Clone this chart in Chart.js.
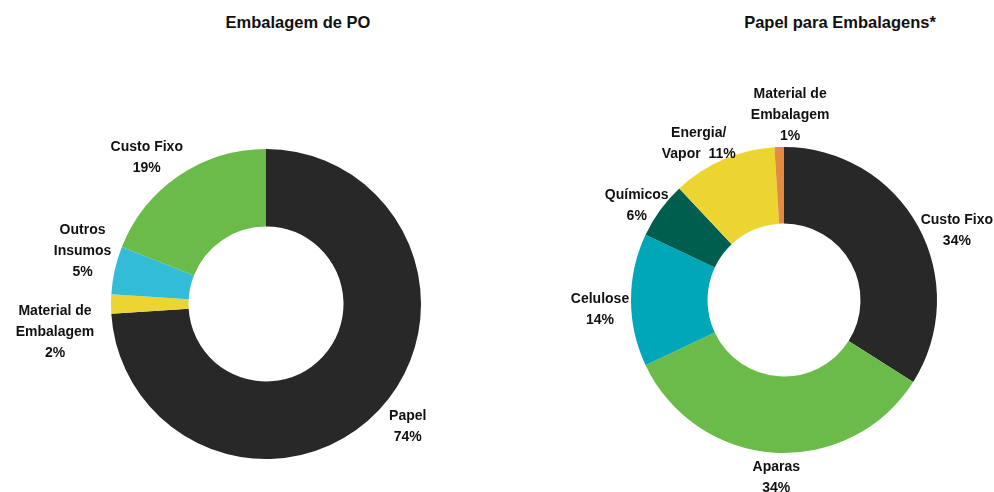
<!DOCTYPE html>
<html lang="pt">
<head>
  <meta charset="UTF-8">
  <title>Estrutura de custos</title>
  <script src="https://cdn.jsdelivr.net/npm/chart.js"></script>
  <style>
    html, body { margin: 0; padding: 0; background: #fff; }
    #wrap { position: relative; width: 994px; height: 492px; overflow: hidden; }
    .box { position: absolute; top: 0; width: 497px; height: 492px; }
    .titulo { position: absolute; top: 13px; font: bold 16.5px "Liberation Sans", Arial, sans-serif; color: #111; white-space: nowrap; transform: translateX(-50%); }
  </style>
</head>
<body>
<div id="wrap">
  <div class="titulo" style="left:298px">Embalagem de PO</div>
  <div class="titulo" style="left:840px">Papel para Embalagens*</div>
  <div class="box" style="left:0"><canvas id="poChart" width="497" height="492"></canvas></div>
  <div class="box" style="left:497px"><canvas id="papelChart" width="497" height="492"></canvas></div>
</div>

<script>
  // Embalagem de PO
  const poLabels = [['Papel'], ['Material de', 'Embalagem'], ['Outros', 'Insumos'], ['Custo Fixo']];
  const poValues = [74, 2, 5, 19];
  const poColors = ['#282828', '#ecd531', '#33bcd8', '#6abb4a'];

  // Papel para Embalagens*
  const papelLabels = [['Custo Fixo'], ['Aparas'], ['Celulose'], ['Químicos'], ['Energia/', 'Vapor'], ['Material de', 'Embalagem']];
  const papelValues = [34, 34, 14, 6, 11, 1];
  const papelColors = ['#282828', '#6abb4a', '#00a7b8', '#005e4e', '#ecd531', '#e58a3e'];

  // ajustes finos da posicao dos rotulos (px)
  const poNudge = [[4, -7], [-22, 28], [1, -12], [-13, 10]];
  const papelNudge = [[9, 21], [4, -9], [3, 10], [4, 16], [-11, 15], [12, 2]];

  const labelPlugin = {
    id: 'outerLabels',
    afterDatasetsDraw(chart, args, opts) {
      const ctx = chart.ctx;
      const meta = chart.getDatasetMeta(0);
      const data = chart.data.datasets[0].data;
      ctx.save();
      ctx.font = 'bold 14px "Liberation Sans", Arial, sans-serif';
      ctx.fillStyle = '#111';
      ctx.textAlign = 'center';
      ctx.textBaseline = 'middle';
      meta.data.forEach((arc, i) => {
        const mid = (arc.startAngle + arc.endAngle) / 2;
        const r = arc.outerRadius + 34;
        const nudge = opts.nudge[i] || [0, 0];
        const px = arc.x + r * Math.cos(mid) + nudge[0];
        const py = arc.y + r * Math.sin(mid) + nudge[1];
        let lines = chart.data.labels[i].slice();
        const pct = data[i] + '%';
        if (opts.inline && opts.inline.includes(i)) {
          lines[lines.length - 1] += '  ' + pct;
        } else {
          lines.push(pct);
        }
        const lh = 21;
        const top = py - (lines.length - 1) * lh / 2;
        lines.forEach((t, k) => ctx.fillText(t, px, top + k * lh));
      });
      ctx.restore();
    }
  };

  function makeDoughnut(id, labels, values, colors, pad, nudge, inline) {
    return new Chart(document.getElementById(id), {
      type: 'doughnut',
      data: {
        labels: labels,
        datasets: [{ data: values, backgroundColor: colors, borderWidth: 0 }]
      },
      options: {
        responsive: false,
        animation: false,
        cutout: '50%',
        layout: { padding: pad },
        plugins: {
          legend: { display: false },
          tooltip: { enabled: false },
          outerLabels: { nudge: nudge, inline: inline }
        }
      },
      plugins: [labelPlugin]
    });
  }

  makeDoughnut('poChart', poLabels, poValues, poColors,
    { left: 111, right: 76, top: 149, bottom: 33 }, poNudge, []);
  makeDoughnut('papelChart', papelLabels, papelValues, papelColors,
    { left: 134, right: 57, top: 147, bottom: 39 }, papelNudge, [4]);
</script>
</body>
</html>
